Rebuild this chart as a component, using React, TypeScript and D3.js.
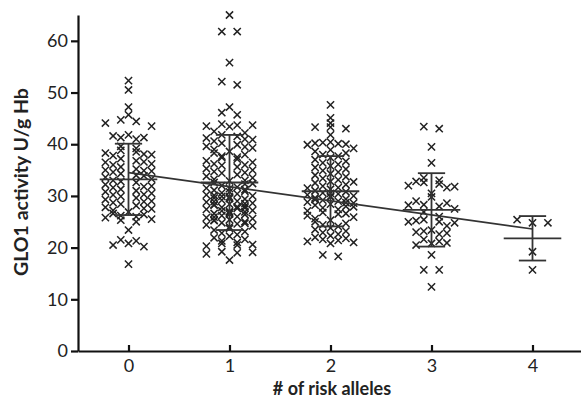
// @ts-nocheck
import { useEffect, useRef } from "react"
import * as d3 from "d3"

// GLO1 activity (U/g Hb) per number of risk alleles
const alleles = [0, 1, 2, 3, 4]

const group0 = [52.3, 50.5, 47.2, 45.7, 44.7, 44.4, 44.1, 43.5,
  41.8, 41.6, 41.3, 41.3, 41.0,
  39.6, 39.2, 38.8, 38.5, 38.3, 38.0, 37.8,
  37.2, 36.8, 36.5, 36.2, 36.0,
  35.6, 35.2, 35.0, 34.8, 34.6, 34.3, 34.0,
  33.6, 33.3, 33.0, 32.8, 32.6,
  32.2, 31.9, 31.6, 31.3, 31.0, 30.8,
  30.5, 30.2, 29.9, 29.6, 29.3,
  29.0, 28.7, 28.4, 28.1, 27.8, 27.5,
  27.2, 26.9, 26.6, 26.4, 26.2, 26.0, 25.8,
  25.5, 25.3, 25.0,
  34.9, 33.9, 31.8, 30.3, 28.9, 27.6, 36.6, 38.1,
  23.4, 21.5, 21.3, 20.8, 20.5, 20.2, 16.8]

const group1 = [65.0, 61.8, 61.8, 55.8, 52.1, 51.5, 47.2, 46.1, 45.7,
  43.9, 43.7, 43.5, 43.7, 43.4,
  42.5, 42.2, 41.8, 41.5, 41.2, 40.9, 40.6,
  40.2, 39.9, 39.6, 39.3, 39.0,
  38.6, 38.3, 38.0, 37.7, 37.4, 37.1,
  36.8, 36.5, 36.2, 35.9, 35.6, 35.3,
  35.0, 34.7, 34.4, 34.1, 33.8, 33.5, 33.2,
  32.9, 32.6, 32.3, 32.0, 31.7, 31.4, 31.1, 30.9,
  30.6, 30.4, 30.2, 30.0, 29.8, 29.6, 29.4, 29.2,
  29.0, 28.8, 28.6, 28.4, 28.2, 28.0, 27.8, 27.6, 27.4,
  27.2, 27.0, 26.8, 26.6, 26.4, 26.2, 26.0, 25.8, 25.6,
  25.4, 25.2, 25.0, 24.8, 24.6, 24.4, 24.2,
  24.0, 23.7, 23.4, 23.1, 22.8, 22.5,
  22.2, 21.9, 21.6, 21.3, 21.0,
  31.5, 30.8, 30.1, 29.5, 28.9, 28.3, 27.7, 27.1, 26.5, 25.9, 25.3, 24.7,
  28.5, 27.9, 26.9, 29.9, 31.2, 32.4, 33.0, 34.5, 36.0, 37.5, 39.5, 41.0,
  20.8, 20.5, 20.3, 20.6, 19.2, 19.0, 18.8, 19.1, 17.6]

const group2 = [47.6, 45.1, 44.1, 43.3, 43.3, 43.0, 41.8,
  40.4, 40.2, 40.0, 40.3, 40.1, 39.9,
  39.2, 38.9, 38.6, 38.3, 38.0, 37.7, 37.4,
  37.0, 36.7, 36.4, 36.1, 35.8, 35.5,
  35.2, 34.9, 34.6, 34.3, 34.0, 33.7,
  33.4, 33.1, 32.8, 32.5, 32.2, 31.9, 31.6,
  31.3, 31.0, 30.8, 30.6, 30.4, 30.2, 30.0, 29.8,
  29.6, 29.4, 29.2, 29.0, 28.8, 28.6, 28.4, 28.2,
  28.0, 27.7, 27.4, 27.1, 26.8, 26.5, 26.2,
  25.9, 25.6, 25.3, 25.0, 24.7, 24.4,
  24.1, 23.8, 23.5, 23.2, 22.9, 22.6, 22.3,
  22.0, 21.8, 21.6, 21.4, 21.2, 21.0, 20.8,
  30.5, 29.9, 29.3, 28.7, 31.5, 27.9, 32.7, 26.6,
  18.6, 18.3]

const group3 = [43.4, 43.0, 39.5, 36.4,
  33.5, 33.0, 32.6, 32.3, 32.0, 31.8, 32.8, 31.6,
  30.5, 29.8, 29.0, 28.6, 28.3, 28.0, 28.2, 27.5,
  26.9, 26.0, 25.4, 25.0, 25.0, 24.8, 25.2, 24.2,
  23.4, 23.0, 22.8, 23.2, 22.6,
  21.6, 21.2, 20.8, 20.5, 20.9,
  18.6, 15.7, 15.7, 12.4]

const group4 = [24.8, 25.4, 24.8, 19.2, 15.7]

const groups = [group0, group1, group2, group3, group4]

// mean and SD for each group, as drawn
const means = [33.2, 32.6, 30.9, 27.3, 21.8]
const sds = [6.9, 9.2, 6.8, 7.1, 4.3]

// fitted trend line end points
const trend = [
  [0, 34.5],
  [4, 23.6],
]

const yTicks = [0, 10, 20, 30, 40, 50, 60]

export default function App() {
  const svgRef = useRef<SVGSVGElement>(null)

  useEffect(() => {
    if (!svgRef.current) return

    const width = 581
    const height = 399
    const font = "Lato, 'Open Sans', sans-serif"
    const ink = "#222"

    d3.select(svgRef.current).selectAll("*").remove()

    const svg = d3
      .select(svgRef.current)
      .attr("width", width)
      .attr("height", height)

    const x = d3.scaleLinear().domain([-0.5, 4.5]).range([78, 583])
    const y = d3.scaleLinear().domain([0, 65]).range([351, 15])

    // scatter points, spread sideways within value bins
    const slotPx = 7.7
    const binSize = 1.5
    const odd = [0, -2, 2, -1, 1, -3, 3]
    const even = [-1, 1, -3, 3, -2, 2, 0]
    const pts = []
    groups.forEach((vals, gi) => {
      const bins = d3.group(vals, (v) => Math.floor(v / binSize))
      bins.forEach((bv) => {
        const n = bv.length
        const seq = n > 7 ? odd : n % 2 ? odd : even
        bv.forEach((v, i) => {
          pts.push({ cx: x(alleles[gi]) + seq[i % 7] * slotPx, cy: y(v) })
        })
      })
    })

    const r = 3.6
    svg
      .append("g")
      .selectAll("path")
      .data(pts)
      .join("path")
      .attr("d", (d) => `M${d.cx - r},${d.cy - r}L${d.cx + r},${d.cy + r}M${d.cx - r},${d.cy + r}L${d.cx + r},${d.cy - r}`)
      .attr("stroke", ink)
      .attr("stroke-width", 1.5)
      .attr("fill", "none")

    // mean and SD bars
    const bars = svg.append("g").attr("stroke", "#333").attr("stroke-width", 1.8).attr("fill", "none")
    alleles.forEach((a, i) => {
      const cx = x(a)
      const m = means[i]
      const s = sds[i]
      bars.append("line").attr("x1", x(a - 0.285)).attr("x2", x(a + 0.285)).attr("y1", y(m)).attr("y2", y(m))
      bars.append("line").attr("x1", cx).attr("x2", cx).attr("y1", y(m + s)).attr("y2", y(m - s))
      bars.append("line").attr("x1", x(a - 0.135)).attr("x2", x(a + 0.135)).attr("y1", y(m + s)).attr("y2", y(m + s))
      bars.append("line").attr("x1", x(a - 0.135)).attr("x2", x(a + 0.135)).attr("y1", y(m - s)).attr("y2", y(m - s))
    })

    // trend line
    svg
      .append("path")
      .attr("d", d3.line().x((d) => x(d[0])).y((d) => y(d[1]))(trend))
      .attr("stroke", "#333")
      .attr("stroke-width", 1.7)
      .attr("fill", "none")

    // axes
    const yAxis = svg
      .append("g")
      .attr("transform", `translate(${x(-0.5)},0)`)
      .call(d3.axisLeft(y).tickValues(yTicks).tickSize(7).tickSizeOuter(0).tickPadding(3))
    const xAxis = svg
      .append("g")
      .attr("transform", `translate(0,${y(0)})`)
      .call(d3.axisBottom(x).tickValues(alleles).tickSizeInner(-6).tickSizeOuter(0).tickPadding(8).tickFormat(d3.format("d")))

    ;[yAxis, xAxis].forEach((ax) => {
      ax.select(".domain").attr("stroke", "#111").attr("stroke-width", 2.2)
      ax.selectAll(".tick line").attr("stroke", "#111").attr("stroke-width", 2.2)
      ax.selectAll(".tick text").attr("fill", ink).style("font-family", font).style("font-size", "18px")
    })

    // axis titles
    svg
      .append("text")
      .attr("x", 332)
      .attr("y", 394.5)
      .attr("text-anchor", "middle")
      .style("font-family", font)
      .style("font-weight", "bold")
      .style("font-size", "18px")
      .attr("fill", ink)
      .text("# of risk alleles")

    svg
      .append("text")
      .attr("transform", "translate(28,182) rotate(-90)")
      .attr("text-anchor", "middle")
      .style("font-family", font)
      .style("font-weight", "bold")
      .style("font-size", "19.5px")
      .attr("fill", ink)
      .text("GLO1 activity U/g Hb")
  }, [])

  return <svg ref={svgRef} style={{ position: "absolute", left: 0, top: 0, display: "block", background: "#fff" }} />
}
